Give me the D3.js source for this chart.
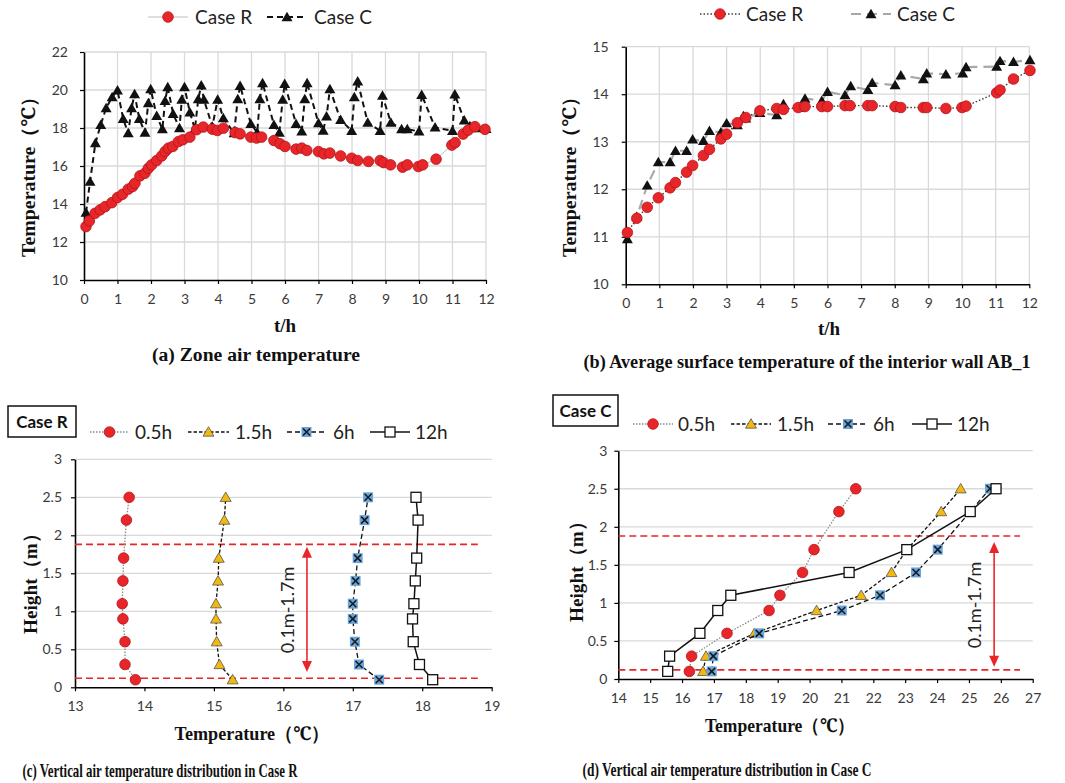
<!DOCTYPE html>
<html>
<head>
<meta charset="utf-8">
<script src="https://cdn.jsdelivr.net/npm/d3@7"></script>
<style>
  body { margin: 0; background: #fff; }
  svg { display: block; }
</style>
</head>
<body>
<svg id="fig" width="1065" height="783"></svg>
<script>
// ---------- (a) Zone air temperature ----------
const zoneHoursR = [0.06,0.16,0.33,0.48,0.63,0.83,1.0,1.15,1.32,1.45,1.52,1.67,1.82,1.92,2.02,2.17,2.32,2.42,2.52,2.65,2.82,2.95,3.16,3.36,3.56,3.83,3.98,4.16,4.51,4.66,4.98,5.15,5.3,5.67,5.85,6.0,6.33,6.5,6.65,7.0,7.16,7.34,7.66,7.99,8.17,8.49,8.84,8.94,9.15,9.51,9.65,9.98,10.11,10.51,10.98,11.08,11.32,11.47,11.67,11.97];
const zoneTempR = [12.81,13.11,13.51,13.69,13.86,14.07,14.34,14.51,14.78,14.92,15.09,15.48,15.62,15.88,16.06,16.29,16.53,16.76,16.94,17.03,17.29,17.38,17.52,17.91,18.05,17.94,17.87,17.99,17.76,17.69,17.52,17.47,17.52,17.34,17.17,17.03,16.89,16.94,16.82,16.76,16.64,16.68,16.53,16.41,16.29,16.24,16.29,16.18,16.06,15.94,16.06,15.97,16.06,16.36,17.1,17.23,17.68,17.89,18.07,17.93];
const zoneHoursC = [0.06,0.18,0.34,0.5,0.66,0.84,1.0,1.17,1.32,1.42,1.51,1.65,1.82,1.92,1.99,2.17,2.34,2.42,2.5,2.66,2.85,2.92,3.0,3.16,3.31,3.41,3.5,3.58,3.83,3.99,4.16,4.48,4.59,4.66,4.98,5.17,5.25,5.33,5.67,5.83,5.93,5.99,6.33,6.5,6.59,6.66,7.0,7.14,7.24,7.34,7.66,7.99,8.07,8.17,8.47,8.84,8.91,9.16,9.48,9.65,10.0,10.08,10.48,11.0,11.07,11.35,11.52,11.7,12.0];
const zoneTempC = [13.55,15.18,17.2,18.17,19.05,19.63,19.98,18.48,17.73,19.05,19.79,18.48,17.76,19.31,20.05,18.64,17.94,19.43,20.15,18.75,18.0,19.49,20.15,18.82,17.94,19.52,20.24,19.49,18.08,19.49,18.52,17.73,19.52,20.22,18.22,17.76,19.52,20.37,18.17,17.76,19.49,20.33,18.22,17.82,19.52,20.37,18.26,17.87,18.61,20.05,18.43,17.85,19.63,20.45,18.29,17.85,19.7,18.29,17.94,17.94,17.82,19.75,18.03,17.85,19.77,18.4,18.1,18.0,17.95];

// ---------- (b) Average surface temperature of wall AB_1 ----------
const wallHoursR = [0.05,0.33,0.64,0.97,1.32,1.48,1.81,1.99,2.31,2.49,2.83,3.0,3.32,3.57,3.99,4.49,4.69,5.13,5.33,5.83,6.0,6.52,6.67,7.2,7.33,8.01,8.18,8.85,8.95,9.52,10.0,10.12,11.03,11.13,11.53,12.02];
const wallTempR = [11.09,11.39,11.62,11.82,12.03,12.14,12.36,12.5,12.71,12.84,13.06,13.16,13.40,13.51,13.65,13.70,13.68,13.72,13.74,13.74,13.74,13.76,13.76,13.76,13.76,13.74,13.72,13.72,13.72,13.70,13.72,13.75,14.03,14.09,14.32,14.50];
const wallHoursC = [0.05,0.33,0.64,0.97,1.32,1.48,1.81,1.99,2.31,2.49,2.83,3.0,3.32,3.5,3.57,3.99,4.49,4.69,5.18,5.33,5.83,6.0,6.52,6.69,7.2,7.33,8.01,8.18,8.85,8.95,9.52,10.02,10.12,11.03,11.13,11.53,12.02];
const wallTempC = [10.95,11.42,12.08,12.57,12.57,12.81,12.81,13.05,13.02,13.23,13.20,13.39,13.35,13.54,13.49,13.61,13.56,13.79,13.72,13.91,13.86,14.05,13.98,14.17,14.09,14.24,14.19,14.40,14.32,14.44,14.42,14.44,14.57,14.58,14.70,14.68,14.72];

// ---------- (c), (d) Vertical profiles ----------
const heights = [0.1,0.3,0.6,0.9,1.1,1.4,1.7,2.2,2.5];
const profileTimes = ["0.5h","1.5h","6h","12h"];
const caseR_05 = [13.87,13.72,13.72,13.69,13.68,13.69,13.70,13.74,13.78];
const caseR_15 = [15.27,15.08,15.04,15.03,15.03,15.06,15.07,15.15,15.17];
const caseR_6  = [17.38,17.09,17.03,17.00,17.00,17.04,17.07,17.17,17.22];
const caseR_12 = [18.15,17.96,17.87,17.86,17.88,17.90,17.92,17.94,17.91];
const caseC_05 = [16.23,16.30,17.41,18.73,19.07,19.78,20.14,20.92,21.45];
const caseC_15 = [16.66,16.75,18.27,20.22,21.62,22.57,23.05,24.13,24.74];
const caseC_6  = [16.93,16.98,18.42,21.01,22.21,23.34,24.02,25.04,25.66];
const caseC_12 = [15.55,15.61,16.56,17.12,17.53,21.24,23.05,25.04,25.85];
const occupiedZone = [0.12, 1.88];       // red dashed bounds (m)
const zoneLabel = "0.1m-1.7m";

// ---------- tick values ----------
const hourTicks = d3.range(0, 13, 1);
const zoneTempTicks = [10,12,14,16,18,20,22];
const wallTempTicks = [10,11,12,13,14,15];
const heightTicks = [0,0.5,1,1.5,2,2.5,3];
const profTempTicksR = [13,14,15,16,17,18,19];
const profTempTicksC = d3.range(14, 28, 1);

const SANS = "Lato, 'Open Sans', 'DejaVu Sans', sans-serif";
const SERIF = "'Liberation Serif', 'Times New Roman', 'Noto Serif', serif";
const RED = "#e8262a", RED_STROKE = "#b3141a";
const svg = d3.select("#fig");

function frame(x, y, xTicks, yTicks, o) {
  const g = svg.append("g");
  const [x0, x1] = x.range(), [y0, y1] = y.range();
  if (o.vgrid) {
    g.append("g").selectAll("line").data(xTicks.slice(1)).join("line")
      .attr("x1", d => x(d)).attr("x2", d => x(d)).attr("y1", y0).attr("y2", y1)
      .attr("stroke", "#d9d9d9").attr("stroke-width", 1.3);
  }
  g.append("g").selectAll("line").data(yTicks.slice(1)).join("line")
    .attr("x1", x0).attr("x2", x1).attr("y1", d => y(d)).attr("y2", d => y(d))
    .attr("stroke", "#d9d9d9").attr("stroke-width", 1.3);
  const fmt = d3.format("~g");
  const ax = g.append("g").attr("transform", `translate(0,${y0})`)
    .call(d3.axisBottom(x).tickValues(xTicks).tickSize(4).tickSizeOuter(0).tickPadding(o.xpad).tickFormat(fmt));
  const ay = g.append("g").attr("transform", `translate(${x0},0)`)
    .call(d3.axisLeft(y).tickValues(yTicks).tickSize(4).tickSizeOuter(0).tickPadding(o.ypad).tickFormat(fmt));
  [ax, ay].forEach(a => {
    a.select(".domain").attr("stroke", "#000").attr("stroke-width", 1.6);
    a.selectAll(".tick line").attr("stroke", "#000").attr("stroke-width", 1.2);
    a.selectAll(".tick text").attr("fill", "#3a3a3a").style("font-family", SANS).style("font-size", "14px");
  });
  return g;
}

function drawLine(g, xs, ys, x, y, style) {
  const pts = xs.map((v, i) => [x(v), y(ys[i])]);
  g.append("path").attr("d", d3.line()(pts)).attr("fill", "none")
    .attr("stroke", style.color).attr("stroke-width", style.width)
    .attr("stroke-dasharray", style.dash || null);
  return pts;
}

function marker(g, kind, cx, cy, s) {
  s = s || 1;
  if (kind === "circle") {
    g.append("circle").attr("cx", cx).attr("cy", cy).attr("r", 5.3 * s)
      .attr("fill", RED).attr("stroke", RED_STROKE).attr("stroke-width", 0.8);
  } else if (kind === "triBlack") {
    g.append("path").attr("d", d3.symbol(d3.symbolTriangle, 52 * s)())
      .attr("transform", `translate(${cx},${cy + 1})`).attr("fill", "#111");
  } else if (kind === "triYellow") {
    g.append("path").attr("d", d3.symbol(d3.symbolTriangle, 52 * s)())
      .attr("transform", `translate(${cx},${cy + 1})`).attr("fill", "#f3b90f")
      .attr("stroke", "#555").attr("stroke-width", 0.8);
  } else if (kind === "sqBlue") {
    const h = 5;
    g.append("rect").attr("x", cx - h).attr("y", cy - h).attr("width", 2 * h).attr("height", 2 * h)
      .attr("fill", "#6aa5dc");
    g.append("path").attr("d", `M${cx - 3.5},${cy - 3.5}L${cx + 3.5},${cy + 3.5}M${cx - 3.5},${cy + 3.5}L${cx + 3.5},${cy - 3.5}`)
      .attr("stroke", "#1a1a1a").attr("stroke-width", 1.6);
  } else if (kind === "sqWhite") {
    const h = 5;
    g.append("rect").attr("x", cx - h).attr("y", cy - h).attr("width", 2 * h).attr("height", 2 * h)
      .attr("fill", "#fff").attr("stroke", "#111").attr("stroke-width", 1.3);
  }
}

function series(g, xs, ys, x, y, style, kind) {
  const pts = drawLine(g, xs, ys, x, y, style);
  pts.forEach(p => marker(g, kind, p[0], p[1]));
}

function legendItem(g, xa, xb, yy, style, kind, label, tx, size) {
  g.append("line").attr("x1", xa).attr("x2", xb).attr("y1", yy).attr("y2", yy)
    .attr("stroke", style.color).attr("stroke-width", style.width)
    .attr("stroke-dasharray", style.dash || null);
  marker(g, kind, (xa + xb) / 2, yy);
  g.append("text").attr("x", tx).attr("y", yy).attr("dy", "0.36em")
    .style("font-family", SANS).style("font-size", (size || 19) + "px").attr("fill", "#222").text(label);
}

function text(x, y, str, o) {
  const t = svg.append("text").attr("x", x).attr("y", y).attr("text-anchor", o.anchor || "middle")
    .style("font-family", o.family || SERIF).style("font-size", o.size + "px")
    .style("font-weight", o.weight || "bold").attr("fill", o.fill || "#111").text(str);
  if (o.rotate) t.attr("transform", `rotate(-90,${x},${y})`);
  if (o.len) t.attr("textLength", o.len).attr("lengthAdjust", "spacingAndGlyphs");
  return t;
}

// ===== Panel (a) =====
{
  const x = d3.scaleLinear([0, 12], [84, 486]);
  const y = d3.scaleLinear([10, 22], [280, 52]);
  const g = frame(x, y, hourTicks, zoneTempTicks, { vgrid: true, xpad: 10, ypad: 12 });
  const sR = { color: "#bdbdbd", width: 1 };
  const sC = { color: "#111", width: 2, dash: "6,4" };
  series(g, zoneHoursC, zoneTempC, x, y, sC, "triBlack");
  series(g, zoneHoursR, zoneTempR, x, y, sR, "circle");
  const lg = svg.append("g");
  legendItem(lg, 148, 188, 17, sR, "circle", "Case R", 195);
  legendItem(lg, 267, 307, 17, sC, "triBlack", "Case C", 314);
  text(35, 172, "Temperature（℃）", { size: 19, rotate: true, len: 170 });
  text(285, 332, "t/h", { size: 19 });
  text(256, 361, "(a)  Zone air temperature", { size: 18, len: 208 });
}

// ===== Panel (b) =====
{
  const x = d3.scaleLinear([0, 12], [625.7, 1029.3]);
  const y = d3.scaleLinear([10, 15], [284.3, 46.7]);
  const g = frame(x, y, hourTicks, wallTempTicks, { vgrid: true, xpad: 10, ypad: 13 });
  const sR = { color: "#3c3c3c", width: 1.4, dash: "1.5,2" };
  const sC = { color: "#a8a8a8", width: 2.2, dash: "10,6" };
  series(g, wallHoursC, wallTempC, x, y, sC, "triBlack");
  series(g, wallHoursR, wallTempR, x, y, sR, "circle");
  const lg = svg.append("g");
  legendItem(lg, 700, 740, 14, sR, "circle", "Case R", 746);
  legendItem(lg, 851, 891, 14, sC, "triBlack", "Case C", 897);
  text(576, 172, "Temperature（℃）", { size: 19, rotate: true, len: 170 });
  text(829, 335, "t/h", { size: 19 });
  text(807, 368, "(b)  Average surface temperature of the interior wall AB_1", { size: 18, len: 447 });
}

// line styles for the profile panels
const profStyles = [
  { color: "#8a8a8a", width: 1.3, dash: "1.5,1.5" },
  { color: "#111", width: 1.3, dash: "3.5,2" },
  { color: "#111", width: 1.3, dash: "5,3" },
  { color: "#111", width: 1.5 }
];
const profMarkers = ["circle", "triYellow", "sqBlue", "sqWhite"];

function zoneGuides(g, x, y, tMin, tMax, arrowT, arrowSpan, labelX, labelY) {
  occupiedZone.forEach(h => {
    g.append("line").attr("x1", x(tMin)).attr("x2", x(tMax)).attr("y1", y(h)).attr("y2", y(h))
      .attr("stroke", "#e8262a").attr("stroke-width", 1.6).attr("stroke-dasharray", "7,4");
  });
  const ax = x(arrowT), ya = y(arrowSpan[1]), yb = y(arrowSpan[0]);
  g.append("line").attr("x1", ax).attr("x2", ax).attr("y1", ya + 8).attr("y2", yb - 8)
    .attr("stroke", "#e8262a").attr("stroke-width", 1.6);
  g.append("path").attr("d", `M${ax},${ya}L${ax - 5},${ya + 11}L${ax + 5},${ya + 11}Z`).attr("fill", "#e8262a");
  g.append("path").attr("d", `M${ax},${yb}L${ax - 5},${yb - 11}L${ax + 5},${yb - 11}Z`).attr("fill", "#e8262a");
  text(labelX, labelY, zoneLabel, { size: 18, weight: "normal", family: SANS, rotate: true, fill: "#222" })
    .attr("dy", "0.35em");
}

function caseBox(x, y, w, h, label) {
  svg.append("rect").attr("x", x).attr("y", y).attr("width", w).attr("height", h)
    .attr("fill", "#fff").attr("stroke", "#111").attr("stroke-width", 1.5);
  svg.append("text").attr("x", x + w / 2).attr("y", y + h / 2).attr("dy", "0.36em")
    .attr("text-anchor", "middle").style("font-family", SANS).style("font-weight", "bold")
    .style("font-size", "17px").attr("fill", "#111").text(label);
}

// ===== Panel (c) =====
{
  const x = d3.scaleLinear([13, 19], [75, 491.7]);
  const y = d3.scaleLinear([0, 3], [687.3, 459.3]);
  const g = frame(x, y, profTempTicksR, heightTicks, { vgrid: false, xpad: 10, ypad: 9 });
  zoneGuides(g, x, y, 13, 18.8, 16.34, [0.2, 1.85], 288, 610);
  [caseR_05, caseR_15, caseR_6, caseR_12].forEach((vals, i) =>
    series(g, vals, heights, x, y, profStyles[i], profMarkers[i]));
  caseBox(8, 406, 68, 31, "Case R");
  const lg = svg.append("g");
  const pos = [[90, 129, 135], [188, 229, 235], [287, 326, 333], [370, 410, 415]];
  profileTimes.forEach((lab, i) =>
    legendItem(lg, pos[i][0], pos[i][1], 432, profStyles[i], profMarkers[i], lab, pos[i][2]));
  text(30, 579, "Height（m）", { size: 19, rotate: true, len: 110 }).attr("dy", "0.35em");
  text(252, 740, "Temperature（℃）", { size: 19, len: 155 });
  text(160, 777, "(c) Vertical air temperature distribution in Case R", { size: 19, len: 275 });
}

// ===== Panel (d) =====
{
  const x = d3.scaleLinear([14, 27], [618.3, 1032.7]);
  const y = d3.scaleLinear([0, 3], [679, 450.7]);
  const g = frame(x, y, profTempTicksC, heightTicks, { vgrid: false, xpad: 10, ypad: 7 });
  zoneGuides(g, x, y, 14, 26.6, 25.79, [0.16, 1.8], 975, 605);
  [caseC_05, caseC_15, caseC_6, caseC_12].forEach((vals, i) =>
    series(g, vals, heights, x, y, profStyles[i], profMarkers[i]));
  caseBox(553, 395, 65, 31, "Case C");
  const lg = svg.append("g");
  const pos = [[633, 673, 678], [731, 771, 777], [828, 868, 873], [912, 952, 957]];
  profileTimes.forEach((lab, i) =>
    legendItem(lg, pos[i][0], pos[i][1], 424, profStyles[i], profMarkers[i], lab, pos[i][2]));
  text(576, 567, "Height（m）", { size: 19, rotate: true, len: 110 }).attr("dy", "0.35em");
  text(780, 732, "Temperature（℃）", { size: 19, len: 150 });
  text(727, 776, "(d) Vertical air temperature distribution in Case C", { size: 19, len: 289 });
}
</script>
</body>
</html>
